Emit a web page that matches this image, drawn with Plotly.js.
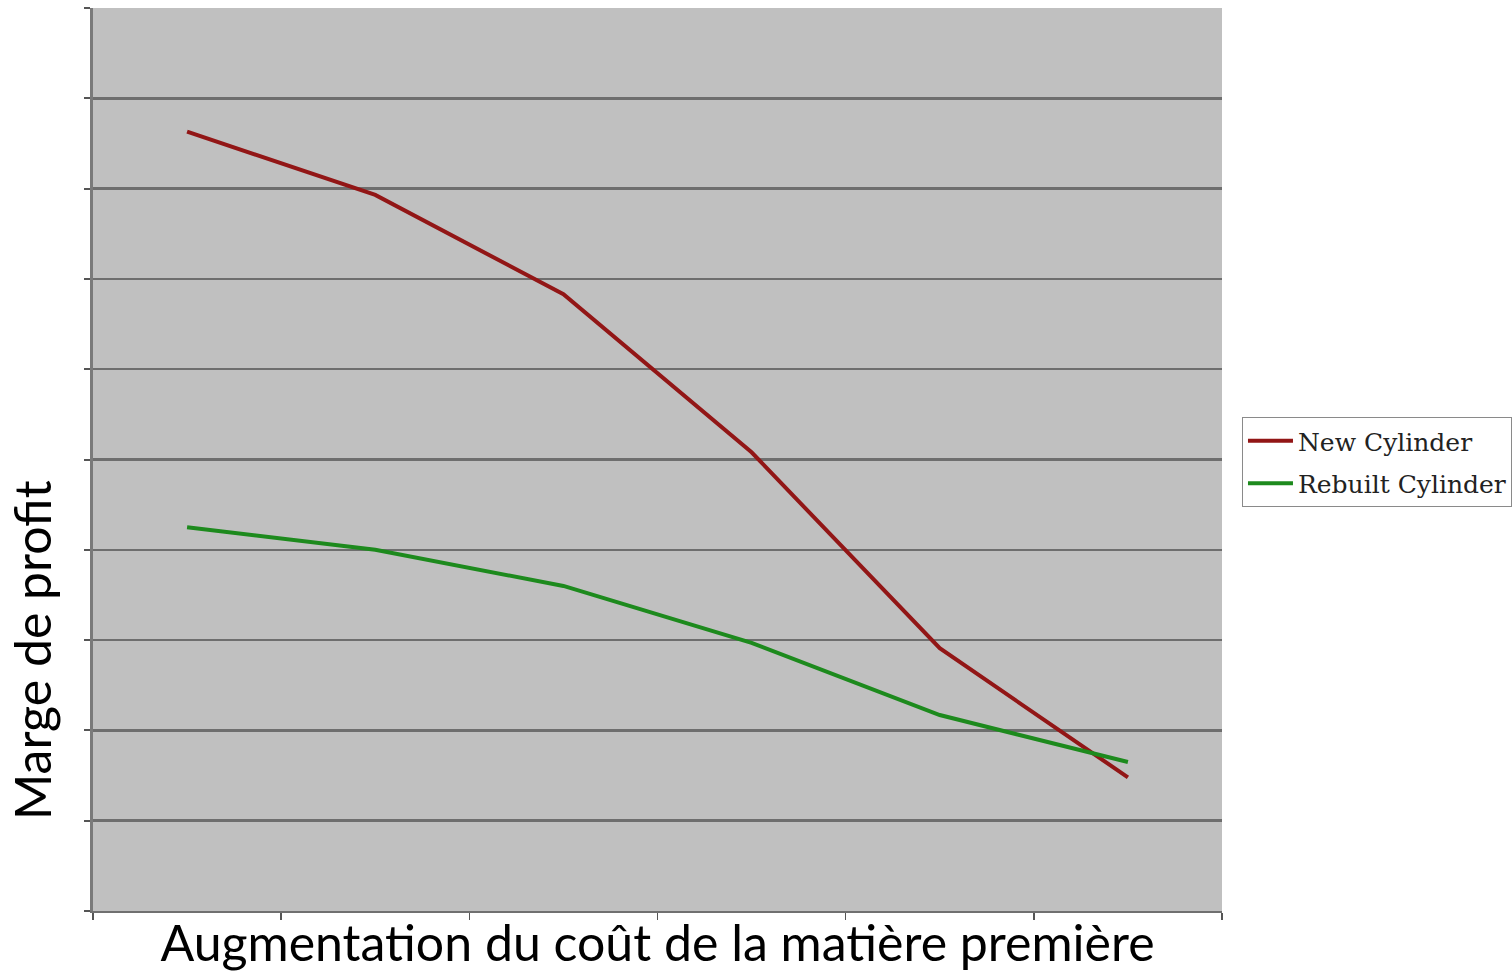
<!DOCTYPE html>
<html>
<head>
<meta charset="utf-8">
<script src="https://cdn.plot.ly/plotly-3.0.1.min.js"></script>
<style>html,body{margin:0;padding:0;background:#fff;}#chart{width:1512px;height:977px;}</style>
</head>
<body>
<div id="chart"></div>
<script>
// Categories (steps of raw-material cost increase; unlabeled in the original)
const categories = ["1", "2", "3", "4", "5", "6"];
// Profit margin values (arbitrary units 0-10)
const newCylinder = [8.63, 7.93, 6.83, 5.08, 2.91, 1.48];
const rebuiltCylinder = [4.25, 4.0, 3.6, 2.97, 2.17, 1.65];
const seriesNames = ["New Cylinder", "Rebuilt Cylinder"];
const xTitle = "Augmentation du coût de la matière première";
const yTitle = "Marge de profit";

const traces = [
  {x: categories, y: newCylinder, name: seriesNames[0], type: "scatter", mode: "lines",
   line: {color: "#921616", width: 4}, legendgroup: "a"},
  {x: categories, y: rebuiltCylinder, name: seriesNames[1], type: "scatter", mode: "lines",
   line: {color: "#1d8a1d", width: 4}, legendgroup: "b"}
];

const layout = {
  width: 1512, height: 977,
  margin: {l: 93, r: 290, t: 8, b: 66, autoexpand: false},
  paper_bgcolor: "#ffffff",
  plot_bgcolor: "#c0c0c0",
  showlegend: true,
  legend: {
    x: 1.0177, y: 0.547, xanchor: "left", yanchor: "top",
    bgcolor: "#ffffff", bordercolor: "#8a8a8a", borderwidth: 1,
    font: {family: "DejaVu Serif", size: 25, color: "#222"},
    tracegroupgap: 7, traceorder: "grouped", itemwidth: 45
  },
  xaxis: {
    type: "category", range: [-0.5, 5.5], tickson: "boundaries",
    showticklabels: false, showgrid: false, zeroline: false,
    ticks: "outside", ticklen: 7, tickcolor: "#555", tickwidth: 1.5,
    showline: true, linecolor: "#707070", linewidth: 2,
    title: {text: xTitle, standoff: 14, font: {family: "Lato", size: 50, color: "#000"}}
  },
  yaxis: {
    range: [0, 10], dtick: 1, showticklabels: false,
    showgrid: true, gridcolor: "#6e6e6e", gridwidth: 2.5, zeroline: false,
    ticks: "outside", ticklen: 6, tickcolor: "#555", tickwidth: 2,
    showline: true, linecolor: "#7a7a7a", linewidth: 3
  },
  annotations: [
    {text: yTitle, xref: "paper", yref: "paper", x: -0.054, y: 0.289, xanchor: "center", yanchor: "middle",
     textangle: -90, showarrow: false, font: {family: "Lato", size: 50, color: "#000"}}
  ]
};

Plotly.newPlot("chart", traces, layout, {displayModeBar: false, staticPlot: true});
</script>
</body>
</html>
